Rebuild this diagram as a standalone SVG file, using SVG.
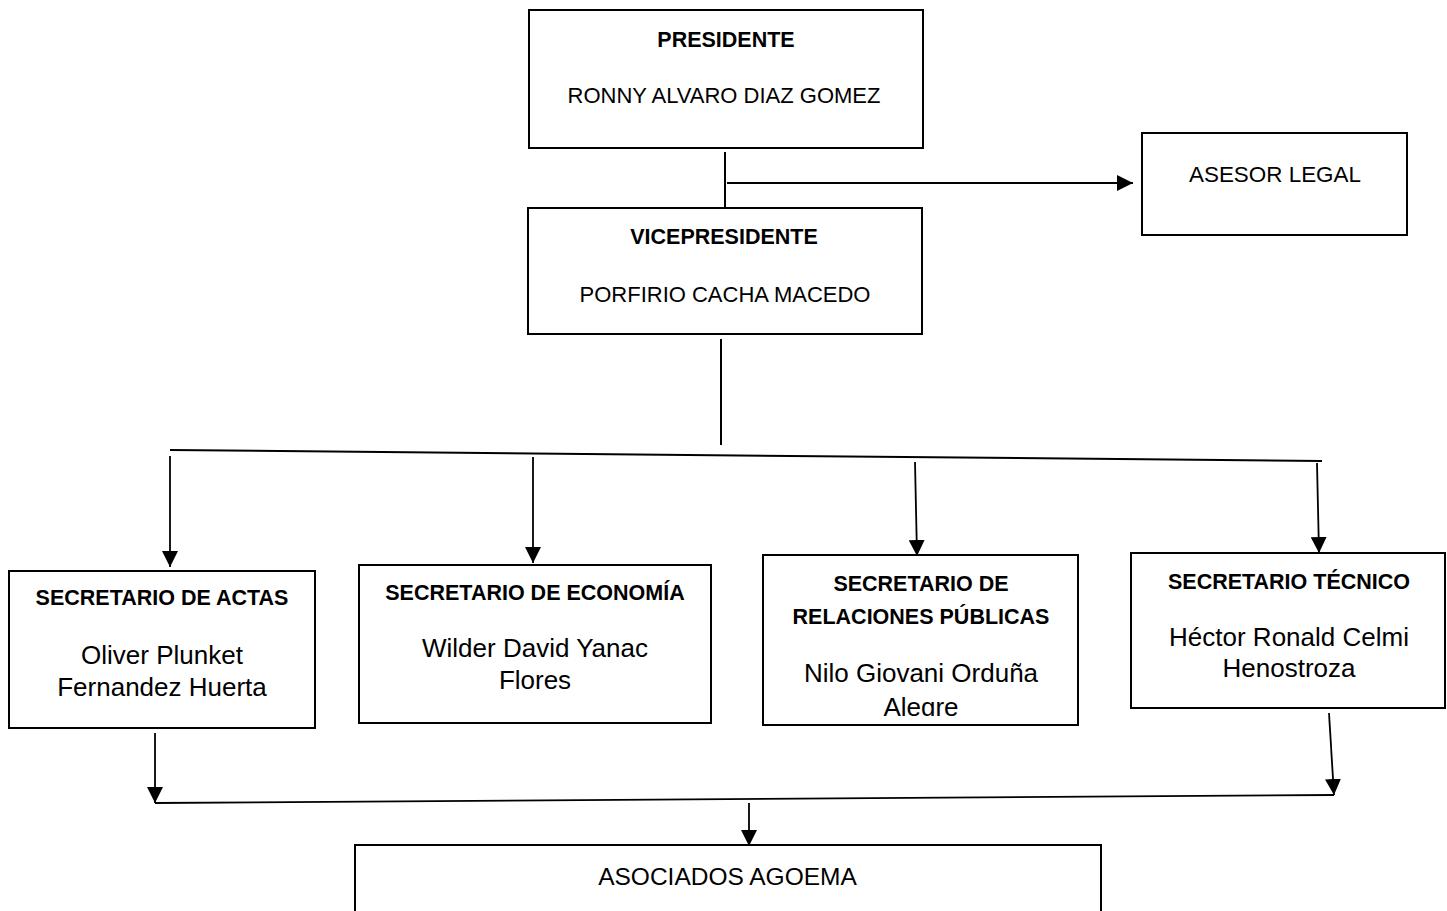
<svg xmlns="http://www.w3.org/2000/svg" width="1447" height="911" viewBox="0 0 1447 911">
<style>
.box{fill:#fff;stroke:#000;stroke-width:2}
.t{font-family:"Liberation Sans",Arial,sans-serif;fill:#000;text-anchor:middle}
.b{font-size:21.5px;font-weight:bold}
.c{font-size:22px}
.n{font-size:26px}
.ln{fill:none;stroke:#000;stroke-width:2}
.thin{fill:none;stroke:#000;stroke-width:1.8}
</style>
<defs>
<marker id="ah" viewBox="0 0 16 16" refX="16" refY="8" markerUnits="userSpaceOnUse" markerWidth="16" markerHeight="16" orient="auto">
<path d="M0,0 L16,8 L0,16 z" fill="#000"/>
</marker>
<clipPath id="rpclip"><rect x="763" y="555" width="315" height="161"/></clipPath>
</defs>
<rect width="1447" height="911" fill="#fff"/>

<g id="connectors">
<line class="ln" x1="725" y1="152" x2="725" y2="211"/>
<line class="ln" x1="727" y1="183" x2="1133" y2="183" marker-end="url(#ah)"/>
<line class="ln" x1="721" y1="339" x2="721" y2="445"/>
<line class="ln" x1="170" y1="450" x2="1322" y2="461"/>
<line class="thin" x1="170" y1="456" x2="170" y2="567" marker-end="url(#ah)"/>
<line class="thin" x1="533" y1="457" x2="533" y2="563" marker-end="url(#ah)"/>
<line class="thin" x1="915" y1="462" x2="917" y2="556" marker-end="url(#ah)"/>
<line class="thin" x1="1317" y1="463" x2="1319" y2="553" marker-end="url(#ah)"/>
<line class="thin" x1="155" y1="733" x2="155" y2="803" marker-end="url(#ah)"/>
<line class="thin" x1="1329" y1="713" x2="1334" y2="795" marker-end="url(#ah)"/>
<line class="thin" x1="155" y1="803" x2="1334" y2="795"/>
<line class="thin" x1="749" y1="803" x2="749" y2="846" marker-end="url(#ah)"/>
</g>

<g id="presidente">
<rect class="box" x="529" y="10" width="394" height="138"/>
<text class="t b" x="726" y="47">PRESIDENTE</text>
<text class="t c" x="724" y="103">RONNY ALVARO DIAZ GOMEZ</text>
</g>

<g id="asesor">
<rect class="box" x="1142" y="133" width="265" height="102"/>
<text class="t c" x="1275" y="182" textLength="172" lengthAdjust="spacingAndGlyphs">ASESOR LEGAL</text>
</g>

<g id="vicepresidente">
<rect class="box" x="528" y="208" width="394" height="126"/>
<text class="t b" x="724" y="244">VICEPRESIDENTE</text>
<text class="t c" x="725" y="302">PORFIRIO CACHA MACEDO</text>
</g>

<g id="actas">
<rect class="box" x="9" y="571" width="306" height="157"/>
<text class="t b" x="162" y="605">SECRETARIO DE ACTAS</text>
<text class="t n" x="162" y="664">Oliver Plunket</text>
<text class="t n" x="162" y="696">Fernandez Huerta</text>
</g>

<g id="economia">
<rect class="box" x="359" y="565" width="352" height="158"/>
<text class="t b" x="535" y="600">SECRETARIO DE ECONOMÍA</text>
<text class="t n" x="535" y="657">Wilder David Yanac</text>
<text class="t n" x="535" y="689">Flores</text>
</g>

<g id="relaciones">
<rect class="box" x="763" y="555" width="315" height="170"/>
<text class="t b" x="921" y="591">SECRETARIO DE</text>
<text class="t b" x="921" y="624">RELACIONES PÚBLICAS</text>
<text class="t n" x="921" y="682">Nilo Giovani Orduña</text>
<text class="t n" x="921" y="716" clip-path="url(#rpclip)">Alegre</text>
</g>

<g id="tecnico">
<rect class="box" x="1131" y="553" width="314" height="155"/>
<text class="t b" x="1289" y="589">SECRETARIO TÉCNICO</text>
<text class="t n" x="1289" y="646">Héctor Ronald Celmi</text>
<text class="t n" x="1289" y="677">Henostroza</text>
</g>

<g id="asociados">
<rect class="box" x="355" y="845" width="746" height="90"/>
<text class="t" style="font-size:24.5px" x="727.5" y="885">ASOCIADOS AGOEMA</text>
</g>
</svg>
